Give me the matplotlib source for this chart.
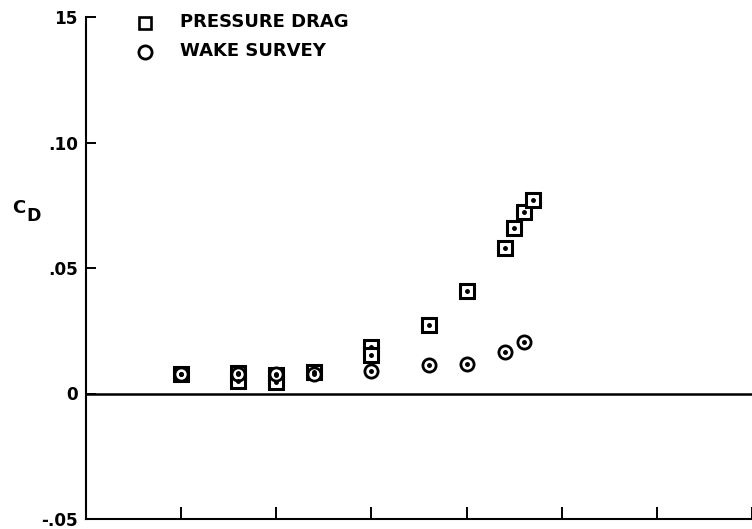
import matplotlib
matplotlib.use("Agg")
import matplotlib.pyplot as plt
from matplotlib.lines import Line2D

# pressure drag (squares) and wake survey (circles)
x_sq = [1.0, 1.6, 1.6, 2.0, 2.0, 2.4, 3.0, 3.0, 3.6, 4.0, 4.4, 4.5, 4.6, 4.7]
cd_sq = [0.0077, 0.0080, 0.0048, 0.0073, 0.0046, 0.0085, 0.0187, 0.0155,
         0.0274, 0.0408, 0.0580, 0.0661, 0.0725, 0.0770]
x_ci = [1.0, 1.6, 2.0, 2.4, 3.0, 3.6, 4.0, 4.4, 4.6]
cd_ci = [0.0078, 0.0078, 0.0078, 0.0076, 0.0089, 0.0112, 0.0116, 0.0165, 0.0207]

yticks = [-0.05, 0, 0.05, 0.10, 0.15]
ylabels = ['-.05', '0', '.05', '.10', '15']
xticks = [1, 2, 3, 4, 5, 6, 7]

plt.rcParams['font.family'] = ['DejaVu Sans']
plt.rcParams['font.weight'] = 'bold'

fig = plt.figure(figsize=(7.52, 5.29), dpi=100)
ax = fig.add_axes([86/752, 10/529, 666/752, 502/529])
ax.set_xlim(0, 7)
ax.set_ylim(-0.05, 0.15)

ax.axhline(0, color='black', lw=1.8, zorder=1)

ax.plot(x_sq, cd_sq, ls='none', marker='s', ms=9.5, mfc='white', mec='black', mew=2.2, zorder=3)
ax.plot(x_ci, cd_ci, ls='none', marker='o', ms=9.5, mfc='white', mec='black', mew=2.0, zorder=4)
ax.plot(x_ci, cd_ci, ls='none', marker='o', ms=2.5, color='black', zorder=5)
ax.plot(x_sq, cd_sq, ls='none', marker='o', ms=2.5, color='black', zorder=5)

for s in ['top', 'right']:
    ax.spines[s].set_visible(False)
for s in ['left', 'bottom']:
    ax.spines[s].set_linewidth(1.5)

ax.set_yticks(yticks)
ax.set_yticklabels(ylabels, fontsize=12.2)
ax.set_xticks(xticks)
ax.set_xticklabels([])
ax.tick_params(axis='y', direction='in', length=7, width=1.4, pad=6)
ax.tick_params(axis='x', direction='in', length=9, width=1.4)

# C_D label
fig.text(12/752, 1 - 208/529, 'C', fontsize=13, va='center', ha='left')
fig.text(26/752, 1 - 216/529, 'D', fontsize=12.5, va='center', ha='left')

# legend
fig.add_artist(Line2D([145/752], [1 - 23/529], marker='s', ms=9, mfc='white', mec='black',
                      mew=1.9, transform=fig.transFigure))
fig.add_artist(Line2D([145/752], [1 - 52/529], marker='o', ms=9.5, mfc='white', mec='black',
                      mew=2.0, transform=fig.transFigure))
fig.text(180/752, 1 - 21.5/529, 'PRESSURE DRAG', fontsize=13, va='center', ha='left')
fig.text(180/752, 1 - 51.5/529, 'WAKE SURVEY', fontsize=13, va='center', ha='left')

fig.savefig('out.png', dpi=100)
